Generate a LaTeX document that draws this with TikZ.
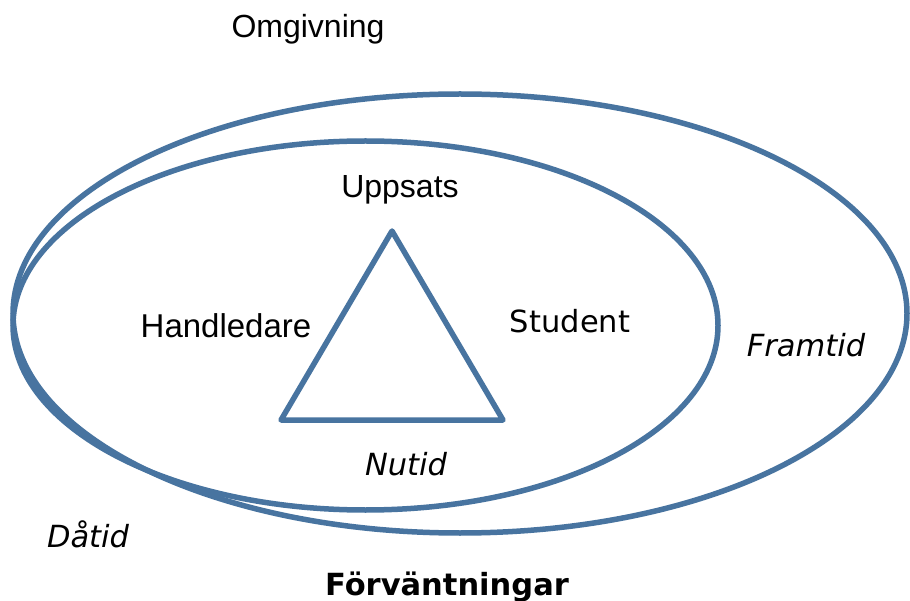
\documentclass[tikz,border=0pt]{standalone}
\usepackage{fontspec}
\setmainfont{Liberation Sans}
\newfontfamily\dvs{DejaVu Sans}
\definecolor{ringblue}{RGB}{72,116,160}
\begin{document}
\begin{tikzpicture}[x=1pt,y=-1pt,
  ring/.style={draw=ringblue,line width=5.5pt},
  arial/.style={font=\fontsize{32}{38}\selectfont,anchor=base,inner sep=0pt},
  dv/.style={font=\dvs\fontsize{30.5}{36}\selectfont,anchor=base,inner sep=0pt},
  dvit/.style={font=\dvs\itshape\fontsize{30.5}{36}\selectfont,anchor=base,inner sep=0pt},
  dvbf/.style={font=\dvs\bfseries\fontsize{30.5}{36}\selectfont,anchor=base,inner sep=0pt}]
\useasboundingbox[fill=white] (0,0) rectangle (910,601);
% ellipses
\coordinate (outerc) at (460,313.5);
\coordinate (innerc) at (365.5,325.5);
\draw[ring] (outerc) ellipse [x radius=447, y radius=219.5];
\draw[ring] (innerc) ellipse [x radius=352.5, y radius=184.5];
% triangle
\coordinate (apex) at (392,231);
\coordinate (bl) at (281,420);
\coordinate (br) at (503,420);
\draw[ring,line join=round] (apex) -- (br) -- (bl) -- cycle;
% labels
\node[arial] (omg) at (308,38) {Omgivning};
\node[arial] (upp) at (400,198) {Uppsats};
\node[arial,font=\fontsize{33}{38}\selectfont] (hand) at (226,338) {Handledare};
\node[dv] (stud) at (570,333) {Student};
\node[dvit] (nu) at (406,475) {Nutid};
\node[dvit] (fram) at (806,357) {Framtid};
\node[dvit] (da) at (88,547) {Dåtid};
\node[dvbf] (forv) at (447,595) {Förväntningar};
\end{tikzpicture}
\end{document}
